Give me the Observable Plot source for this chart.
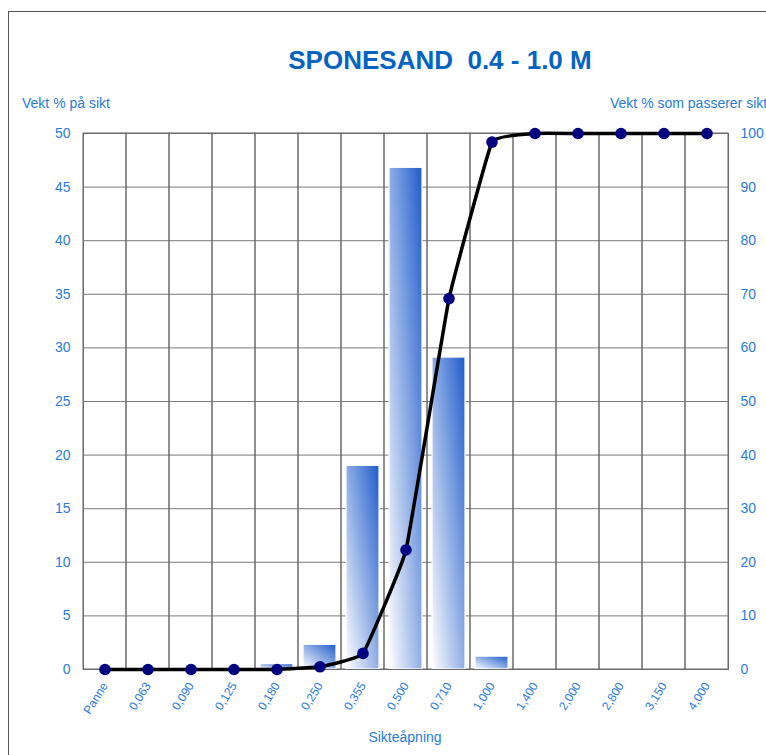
<!DOCTYPE html>
<html><head><meta charset="utf-8">
<script src="https://cdn.jsdelivr.net/npm/d3@7"></script>
<script src="https://cdn.jsdelivr.net/npm/@observablehq/plot@0.6"></script>
<style>
body{margin:0;background:#fff;font-family:"Liberation Sans",Arial,sans-serif;}
#wrap{position:relative;width:766px;height:755px;overflow:hidden;background:#fff;}
#border{position:absolute;left:8px;top:11px;width:900px;height:900px;border-left:1px solid #555;border-top:1px solid #555;}
.lbl{position:absolute;color:#2b7bdc;white-space:nowrap;}
#title{position:absolute;left:0;width:880px;text-align:center;top:45px;font-weight:bold;font-size:26px;color:#0563c1;}
#chart{position:absolute;left:0;top:0;}
</style></head><body>
<div id="wrap">
<div id="border"></div>
<div id="chart"></div>
<div id="title">SPONESAND&nbsp; 0.4 - 1.0 M</div>
<div class="lbl" style="left:22px;top:95px;font-size:14px">Vekt % på sikt</div>
<div class="lbl" style="left:610px;top:95px;font-size:14px">Vekt % som passerer sikt</div>
<div class="lbl" style="left:0;width:810px;text-align:center;top:729px;font-size:14px">Sikteåpning</div>
</div>
<script>
// Sieve sizes (x categories)
const sieves = ["Panne","0,063","0,090","0,125","0,180","0,250","0,355","0,500","0,710","1,000","1,400","2,000","2,800","3,150","4,000"];
// Weight % retained on each sieve (left axis)
const retained = [0, 0, 0, 0, 0.5, 2.3, 19.0, 46.8, 29.1, 1.2, 0, 0, 0, 0, 0];
// Weight % passing each sieve (right axis)
const passing = [0, 0, 0, 0, 0, 0.5, 3.0, 22.3, 69.2, 98.4, 100, 100, 100, 100, 100];
// Tick values
const leftTicks = [0, 5, 10, 15, 20, 25, 30, 35, 40, 45, 50];

const data = sieves.map((s, i) => ({size: s, retained: retained[i], passing: passing[i]}));
const tickColor = "#2b7bdc";
const gridColor = "#6a6a6a";

const chart = Plot.plot({
  width: 766,
  height: 755,
  marginLeft: 83,
  marginRight: 38,
  marginTop: 133,
  marginBottom: 86,
  style: {background: "transparent", fontFamily: "Liberation Sans, Arial, sans-serif", overflow: "visible"},
  x: {type: "band", domain: sieves, paddingInner: 0, paddingOuter: 0},
  y: {domain: [0, 50]},
  marks: [
    Plot.ruleY(leftTicks, {stroke: "#7a7a7a", strokeWidth: 1}),
    Plot.cell(sieves, {x: d => d, fill: "none", stroke: gridColor, strokeWidth: 1}),
    Plot.barY(data, {x: "size", y: "retained", fill: "url(#barGrad)", stroke: "white", strokeWidth: 1.2, insetLeft: 5, insetRight: 5}),
    Plot.frame({stroke: gridColor}),
    Plot.line(data, {x: "size", y: d => d.passing / 2, stroke: "black", strokeWidth: 3.5, curve: "cardinal", tension: 0.75}),
    Plot.dot(data, {x: "size", y: d => d.passing / 2, r: 5.8, fill: "#000080", stroke: "none"}),
    Plot.axisY(leftTicks, {anchor: "left", tickSize: 0, tickPadding: 13, fontSize: 14, fill: tickColor, label: null}),
    Plot.axisY(leftTicks, {anchor: "right", tickSize: 0, tickPadding: 12, fontSize: 14, fill: tickColor, label: null, tickFormat: d => String(d * 2)}),
    Plot.axisX({anchor: "bottom", tickSize: 0, tickPadding: 14, tickRotate: -58, fontSize: 12, fill: tickColor, label: null})
  ]
});

const svg = d3.select(chart);
const defs = svg.insert("defs", ":first-child");
const grad = defs.append("linearGradient").attr("id", "barGrad")
  .attr("x1", 0).attr("y1", 1).attr("x2", 1).attr("y2", 0);
grad.append("stop").attr("offset", "0%").attr("stop-color", "#ffffff");
grad.append("stop").attr("offset", "100%").attr("stop-color", "#1f5ccc");

document.getElementById("chart").appendChild(chart);
</script>
</body></html>
